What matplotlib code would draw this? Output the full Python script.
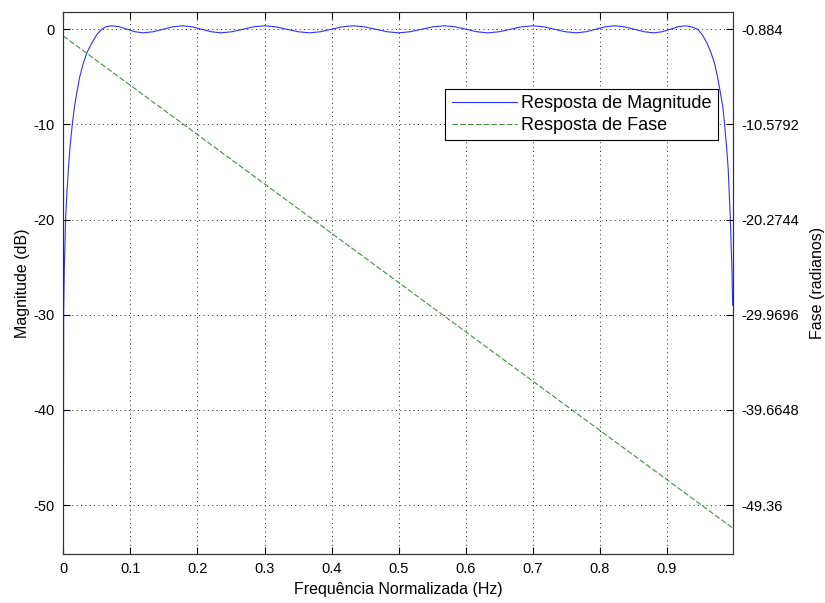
#!/usr/bin/python3
# coding: utf-8

import matplotlib
matplotlib.use('Agg')
import matplotlib.pyplot as plt

# magnitude response (normalized freq, dB)
mag_freq = [0.0, 0.0005, 0.0015, 0.0034, 0.0055, 0.0075, 0.0100, 0.0134, 0.0165,
            0.0199, 0.0245, 0.0298, 0.0355, 0.0422,
            0.050, 0.057, 0.064, 0.072,
            0.0838, 0.0955, 0.1073, 0.119,
            0.1338, 0.1485, 0.1633, 0.178,
            0.1923, 0.2065, 0.2208, 0.235,
            0.2513, 0.2675, 0.2838, 0.300,
            0.3168, 0.3335, 0.3503, 0.367,
            0.3833, 0.3995, 0.4158, 0.432,
            0.449, 0.466, 0.483, 0.500,
            0.517, 0.534, 0.551, 0.568,
            0.5843, 0.6005, 0.6168, 0.633,
            0.6498, 0.6665, 0.6833, 0.700,
            0.7163, 0.7325, 0.7488, 0.765,
            0.7793, 0.7935, 0.8078, 0.822,
            0.8368, 0.8515, 0.8663, 0.881,
            0.8928, 0.9045, 0.9163, 0.928,
            0.937, 0.946, 0.953, 0.960, 0.9655, 0.971, 0.9755, 0.980, 0.9835,
            0.986, 0.989, 0.9915, 0.9946, 0.997, 0.998]
mag_db = [-60.0, -30.0, -25.3, -20.0, -17.0, -14.8, -12.4, -10.0, -8.2,
          -6.76, -5.0, -3.57, -2.4, -1.48,
          -0.55, 0.0, 0.28, 0.37,
          0.26, 0.0, -0.26, -0.37,
          -0.26, 0.0, 0.26, 0.37,
          0.26, 0.0, -0.26, -0.37,
          -0.26, 0.0, 0.26, 0.37,
          0.26, 0.0, -0.26, -0.37,
          -0.26, 0.0, 0.26, 0.37,
          0.26, 0.0, -0.26, -0.37,
          -0.26, 0.0, 0.26, 0.37,
          0.26, 0.0, -0.26, -0.37,
          -0.26, 0.0, 0.26, 0.37,
          0.26, 0.0, -0.26, -0.37,
          -0.26, 0.0, 0.26, 0.37,
          0.26, 0.0, -0.26, -0.37,
          -0.26, 0.0, 0.26, 0.37,
          0.25, 0.0, -0.6, -1.48, -2.4, -3.57, -5.0, -6.76, -8.2,
          -10.0, -12.4, -14.8, -20.0, -25.3, -29.0]

# phase response (straight line)
phase_freq = [0.0, 0.998]
phase_rad = [-1.57, -51.7]

x_ticks = [0, 0.1, 0.2, 0.3, 0.4, 0.5, 0.6, 0.7, 0.8, 0.9]
x_labels = ['0', '0.1', '0.2', '0.3', '0.4', '0.5', '0.6', '0.7', '0.8', '0.9']
mag_ticks = [0, -10, -20, -30, -40, -50]
phase_ticks = [-0.884, -10.5792, -20.2744, -29.9696, -39.6648, -49.36]
phase_labels = ['-0.884', '-10.5792', '-20.2744', '-29.9696', '-39.6648', '-49.36']


def main():
    plt.rcParams['font.family'] = ['Liberation Sans', 'DejaVu Sans']

    fig = plt.figure(figsize=(8.25, 6.03), dpi=100)
    ax1 = fig.add_axes([63.3 / 825, 1 - 554 / 603, 670 / 825, 542.3 / 603])
    ax2 = ax1.twinx()

    l1, = ax1.plot(mag_freq, mag_db, '-', color='#3030ff', lw=0.8)
    l2, = ax2.plot(phase_freq, phase_rad, '--', color='#4a8a4a', lw=0.8,
                   dashes=(5, 2))

    ax1.set_xlim(0, 0.999)
    ax1.set_ylim(-55.15, 1.85)
    ax2.set_ylim(-54.35, 0.91)

    ax1.set_xticks(x_ticks)
    ax1.set_xticklabels(x_labels)
    ax1.set_yticks(mag_ticks)
    ax1.set_yticklabels([str(t) for t in mag_ticks])
    ax2.set_yticks(phase_ticks)
    ax2.set_yticklabels(phase_labels)

    ax1.grid(True, color='#222222', linestyle=(0, (1, 3.5)), lw=0.7)

    ax1.tick_params(direction='in', top=True, right=False, length=5,
                    labelsize=10.5, pad=6)
    ax2.tick_params(direction='in', length=5, labelsize=10.5, pad=6)
    for ax in (ax1, ax2):
        for s in ax.spines.values():
            s.set_color('#333333')

    ax1.set_xlabel('Frequência Normalizada (Hz)', fontsize=11.5, labelpad=4)
    ax1.set_ylabel('Magnitude (dB)', fontsize=11.5, labelpad=3)
    ax2.set_ylabel('Fase (radianos)', fontsize=11.5, labelpad=8)

    leg = ax2.legend([l1, l2], ['Resposta de Magnitude', 'Resposta de Fase'],
                     loc='upper right', bbox_to_anchor=(718 / 825, 1 - 89 / 603),
                     bbox_transform=fig.transFigure, fontsize=13, fancybox=False,
                     framealpha=1, edgecolor='k', borderpad=0.35,
                     labelspacing=0.25, handlelength=3.6, handletextpad=0.25,
                     borderaxespad=0)
    leg.get_frame().set_linewidth(0.8)

    fig.savefig('out.png', dpi=100)


if __name__ == '__main__':
    main()
